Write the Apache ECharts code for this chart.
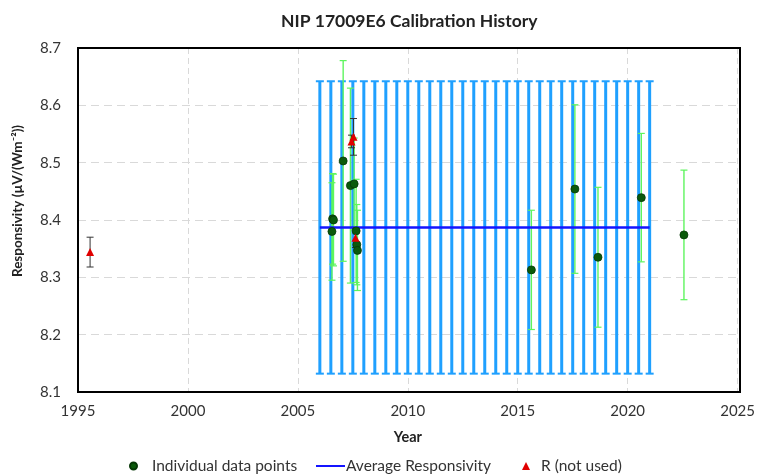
<!DOCTYPE html>
<html>
<head>
<meta charset="utf-8">
<script src="https://cdn.jsdelivr.net/npm/echarts@6/dist/echarts.min.js"></script>
<style>
  html, body { margin: 0; padding: 0; background: #fff; }
  #chart { width: 758px; height: 476px; }
</style>
</head>
<body>
<div id="chart"></div>
<script>
// individual data points (year, responsivity, +/- uncertainty)
var pointYears  = [2006.58, 2006.62, 2006.55, 2007.06, 2007.39, 2007.56, 2007.65, 2007.68, 2007.71, 2015.62, 2017.60, 2018.65, 2020.62, 2022.56];
var pointValues = [8.402, 8.400, 8.380, 8.503, 8.460, 8.463, 8.381, 8.357, 8.347, 8.313, 8.454, 8.335, 8.439, 8.374];
var pointErrors = [0.079, 0.080, 0.085, 0.175, 0.170, 0.080, 0.090, 0.070, 0.070, 0.104, 0.147, 0.122, 0.112, 0.113];

// R (not used)
var rYears  = [1995.55, 2007.44, 2007.53, 2007.62];
var rValues = [8.344, 8.537, 8.545, 8.369];
var rErrors = [0.026, 0.011, 0.032, 0.017];

// average responsivity with its uncertainty band
var avgYears = [2006, 2006.5, 2007, 2007.5, 2008, 2008.5, 2009, 2009.5, 2010, 2010.5,
                2011, 2011.5, 2012, 2012.5, 2013, 2013.5, 2014, 2014.5, 2015, 2015.5,
                2016, 2016.5, 2017, 2017.5, 2018, 2018.5, 2019, 2019.5, 2020, 2020.5, 2021];
var avgValue = 8.387;
var avgError = 0.255;

var FONT = 'Lato, "Open Sans", sans-serif';

function errRows(xs, ys, es) {
  var out = [];
  for (var i = 0; i < xs.length; i++) out.push([xs[i], ys[i] - es[i], ys[i] + es[i]]);
  return out;
}

function makeErrorBar(capHalf, color, lineW, capW) {
  return function (params, api) {
    var x = api.value(0);
    var top = api.coord([x, api.value(2)]);
    var bot = api.coord([x, api.value(1)]);
    var st = { stroke: color, lineWidth: lineW };
    var cs = { stroke: color, lineWidth: capW };
    return {
      type: 'group',
      children: [
        { type: 'line', shape: { x1: top[0], y1: top[1], x2: bot[0], y2: bot[1] }, style: st },
        { type: 'line', shape: { x1: top[0] - capHalf, y1: top[1], x2: top[0] + capHalf, y2: top[1] }, style: cs },
        { type: 'line', shape: { x1: bot[0] - capHalf, y1: bot[1], x2: bot[0] + capHalf, y2: bot[1] }, style: cs }
      ]
    };
  };
}

var avgRows = [];
var avgLine = [];
for (var i = 0; i < avgYears.length; i++) {
  avgRows.push([avgYears[i], avgValue - avgError, avgValue + avgError]);
  avgLine.push([avgYears[i], avgValue]);
}

var chart = echarts.init(document.getElementById('chart'));

var option = {
  animation: false,
  textStyle: { fontFamily: FONT },
  title: {
    text: 'NIP 17009E6 Calibration History',
    left: 276,
    top: 7,
    textStyle: { fontSize: 17.5, fontWeight: 'bold', color: '#222', fontFamily: FONT }
  },
  grid: { left: 78, right: 18, top: 48, bottom: 84 },
  legend: [
    {
      left: 129, top: 458, padding: 0, icon: 'circle', itemWidth: 7, itemHeight: 7, itemGap: 0,
      data: ['Individual data points'],
      textStyle: { fontSize: 15.5, color: '#333', padding: [0, 0, 0, 10] }
    },
    {
      left: 316, top: 458, padding: 0, icon: 'rect', itemWidth: 29, itemHeight: 2, itemGap: 0,
      data: ['Average Responsivity'],
      textStyle: { fontSize: 15.5, color: '#333', padding: [0, 0, 0, -4] }
    },
    {
      left: 522, top: 458, padding: 0, icon: 'triangle', itemWidth: 8, itemHeight: 8, itemGap: 0,
      data: ['R (not used)'],
      textStyle: { fontSize: 15.5, color: '#333', padding: [0, 0, 0, 6] }
    }
  ],
  xAxis: {
    type: 'value', min: 1995, max: 2025, interval: 5,
    name: 'Year', nameLocation: 'middle', nameGap: 38,
    nameTextStyle: { fontSize: 14.5, fontWeight: 'bold', color: '#222' },
    axisLine: { show: false },
    axisTick: { show: false },
    axisLabel: { fontSize: 15, color: '#333', margin: 12, formatter: function (v) { return String(v); } },
    splitLine: { show: true, lineStyle: { color: '#d9d9d9', type: [6, 4], width: 1 } }
  },
  yAxis: {
    type: 'value', min: 8.1, max: 8.7, interval: 0.1,
    axisLine: { show: false },
    axisTick: { show: false },
    axisLabel: { fontSize: 15, color: '#333', margin: 17, formatter: function (v) { return v.toFixed(1); } },
    splitLine: { show: true, lineStyle: { color: '#d9d9d9', type: [8, 5], width: 1 } }
  },
  graphic: [
    {
      type: 'text',
      x: 18, y: 201,
      rotation: Math.PI / 2,
      style: {
        text: 'Responsivity (µV/(Wm⁻²))',
        font: 'bold 13.5px ' + FONT, fill: '#222',
        textAlign: 'center', textVerticalAlign: 'middle'
      }
    },
    {
      // plot frame
      type: 'rect', z: 100, silent: true,
      shape: { x: 78, y: 48, width: 662, height: 344 },
      style: { fill: 'none', stroke: '#000', lineWidth: 2 }
    }
  ],
  series: [
    {
      name: 'avgErr', type: 'custom', z: 1,
      renderItem: makeErrorBar(4, '#1fa0ff', 3, 2),
      encode: { x: 0, y: [1, 2] },
      data: avgRows
    },
    {
      name: 'Average Responsivity', type: 'line', z: 3,
      symbol: 'none', data: avgLine,
      lineStyle: { color: '#1414ff', width: 2.5 },
      itemStyle: { color: '#1414ff' }
    },
    {
      name: 'pointErr', type: 'custom', z: 2,
      renderItem: makeErrorBar(3.5, '#5ef55e', 1.4, 1.2),
      encode: { x: 0, y: [1, 2] },
      data: errRows(pointYears, pointValues, pointErrors)
    },
    {
      name: 'rErr', type: 'custom', z: 2,
      renderItem: makeErrorBar(3.5, '#333', 1, 1),
      encode: { x: 0, y: [1, 2] },
      data: errRows(rYears, rValues, rErrors)
    },
    {
      name: 'Individual data points', type: 'scatter', z: 4,
      symbol: 'circle', symbolSize: 8,
      itemStyle: { color: '#0b5a0b', borderColor: '#063806', borderWidth: 0.8, opacity: 1 },
      data: pointYears.map(function (y, i) { return [y, pointValues[i]]; })
    },
    {
      name: 'R (not used)', type: 'scatter', z: 5,
      symbol: 'triangle', symbolSize: 8,
      itemStyle: { color: '#e00000', opacity: 1 },
      data: rYears.map(function (y, i) { return [y, rValues[i]]; })
    }
  ]
};

chart.setOption(option);
</script>
</body>
</html>
